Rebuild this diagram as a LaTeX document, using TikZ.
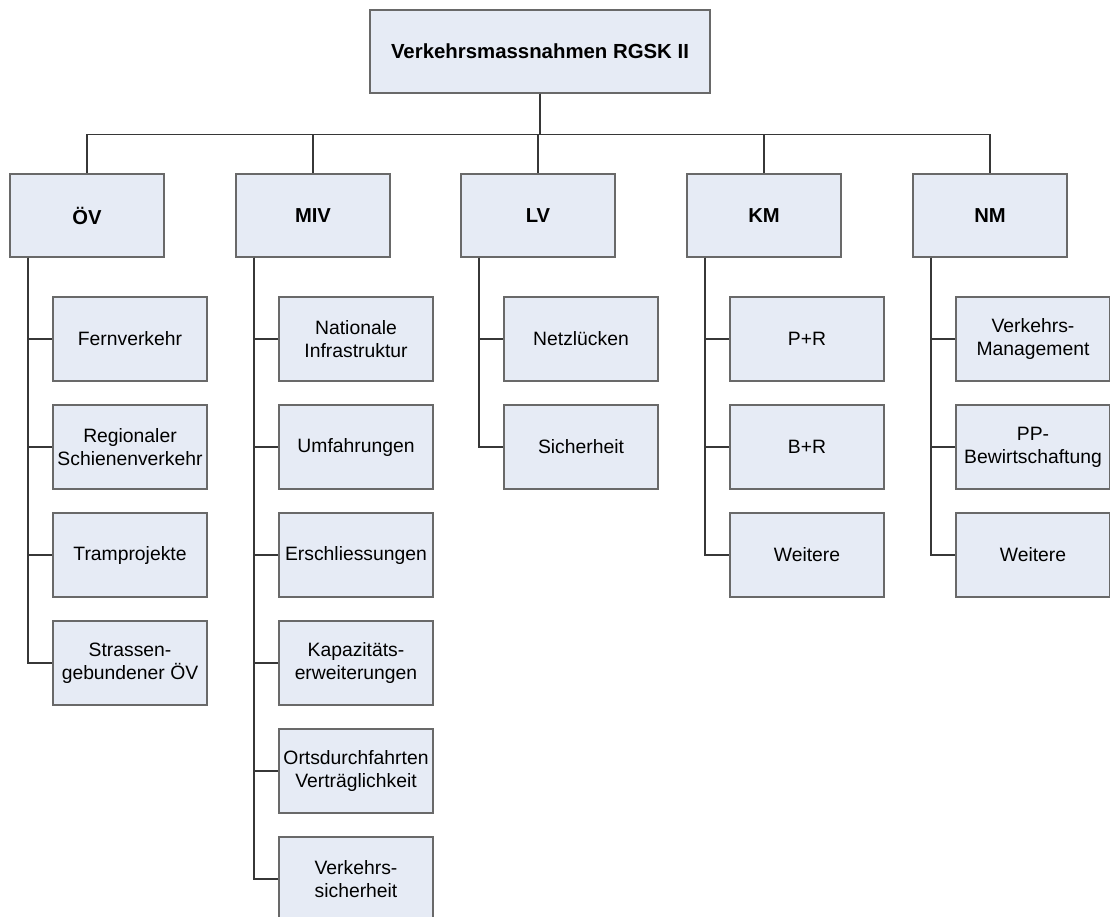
\documentclass[tikz,border=0pt]{standalone}
\usepackage{fontspec}
\setmainfont{Liberation Sans}
\usetikzlibrary{positioning}
\definecolor{boxfill}{RGB}{230, 235, 245}
\definecolor{boxline}{RGB}{105, 105, 105}
\definecolor{treeline}{RGB}{55, 55, 55}

\begin{document}
\begin{tikzpicture}[
    topbox/.style={rectangle, draw=boxline, line width=0.7pt, fill=boxfill,
                   minimum width=6.8cm, minimum height=1.66cm, align=center,
                   font=\fontsize{11.6}{13.5}\selectfont\bfseries},
    mainbox/.style={rectangle, draw=boxline, line width=0.7pt, fill=boxfill,
                    minimum width=3.08cm, minimum height=1.66cm, align=center,
                    font=\fontsize{11.5}{13.5}\selectfont\bfseries},
    subbox/.style={rectangle, draw=boxline, line width=0.7pt, fill=boxfill,
                   minimum width=3.08cm, minimum height=1.68cm, align=center,
                   inner sep=1pt, font=\fontsize{11}{13}\selectfont},
    link/.style={draw=treeline, line width=0.7pt}]

    \clip (0,0) rectangle (22.2,-18.32);

    % Root
    \node[topbox] (root) at (10.8, -1.03) {Verkehrsmassnahmen RGSK II};

    % Main groups
    \node[mainbox] (ov) at (1.74, -4.31) {ÖV};
    \node[mainbox] (miv) at (6.26, -4.31) {MIV};
    \node[mainbox] (lv) at (10.76, -4.31) {LV};
    \node[mainbox] (km) at (15.28, -4.31) {KM};
    \node[mainbox] (nm) at (19.8, -4.31) {NM};

    \draw[link] (root.south) -- ++(0,-0.82) -| (ov.north);
    \draw[link] (root.south) -- ++(0,-0.82) -| (miv.north);
    \draw[link] (root.south) -- ++(0,-0.82) -| (lv.north);
    \draw[link] (root.south) -- ++(0,-0.82) -| (km.north);
    \draw[link] (root.south) -- ++(0,-0.82) -| (nm.north);

    % OeV
    \node[subbox] (ov1) at (2.6, -6.78) {Fernverkehr};
    \node[subbox] (ov2) at (2.6, -8.94) {Regionaler\\Schienenverkehr};
    \node[subbox] (ov3) at (2.6, -11.10) {Tramprojekte};
    \node[subbox] (ov4) at (2.6, -13.26) {Strassen-\\gebundener ÖV};

    \draw[link] ([xshift=0.37cm]ov.south west) |- (ov1.west);
    \draw[link] ([xshift=0.37cm]ov.south west) |- (ov2.west);
    \draw[link] ([xshift=0.37cm]ov.south west) |- (ov3.west);
    \draw[link] ([xshift=0.37cm]ov.south west) |- (ov4.west);

    % MIV
    \node[subbox] (miv1) at (7.12, -6.78) {Nationale\\Infrastruktur};
    \node[subbox] (miv2) at (7.12, -8.94) {Umfahrungen};
    \node[subbox] (miv3) at (7.12, -11.10) {Erschliessungen};
    \node[subbox] (miv4) at (7.12, -13.26) {Kapazitäts-\\erweiterungen};
    \node[subbox] (miv5) at (7.12, -15.42) {Ortsdurchfahrten\\Verträglichkeit};
    \node[subbox] (miv6) at (7.12, -17.58) {Verkehrs-\\sicherheit};

    \draw[link] ([xshift=0.37cm]miv.south west) |- (miv1.west);
    \draw[link] ([xshift=0.37cm]miv.south west) |- (miv2.west);
    \draw[link] ([xshift=0.37cm]miv.south west) |- (miv3.west);
    \draw[link] ([xshift=0.37cm]miv.south west) |- (miv4.west);
    \draw[link] ([xshift=0.37cm]miv.south west) |- (miv5.west);
    \draw[link] ([xshift=0.37cm]miv.south west) |- (miv6.west);

    % LV
    \node[subbox] (lv1) at (11.62, -6.78) {Netzlücken};
    \node[subbox] (lv2) at (11.62, -8.94) {Sicherheit};

    \draw[link] ([xshift=0.37cm]lv.south west) |- (lv1.west);
    \draw[link] ([xshift=0.37cm]lv.south west) |- (lv2.west);

    % KM
    \node[subbox] (km1) at (16.14, -6.78) {P+R};
    \node[subbox] (km2) at (16.14, -8.94) {B+R};
    \node[subbox] (km3) at (16.14, -11.10) {Weitere};

    \draw[link] ([xshift=0.37cm]km.south west) |- (km1.west);
    \draw[link] ([xshift=0.37cm]km.south west) |- (km2.west);
    \draw[link] ([xshift=0.37cm]km.south west) |- (km3.west);

    % NM
    \node[subbox] (nm1) at (20.66, -6.78) {Verkehrs-\\Management};
    \node[subbox] (nm2) at (20.66, -8.94) {PP-\\Bewirtschaftung};
    \node[subbox] (nm3) at (20.66, -11.10) {Weitere};

    \draw[link] ([xshift=0.37cm]nm.south west) |- (nm1.west);
    \draw[link] ([xshift=0.37cm]nm.south west) |- (nm2.west);
    \draw[link] ([xshift=0.37cm]nm.south west) |- (nm3.west);
\end{tikzpicture}
\end{document}
